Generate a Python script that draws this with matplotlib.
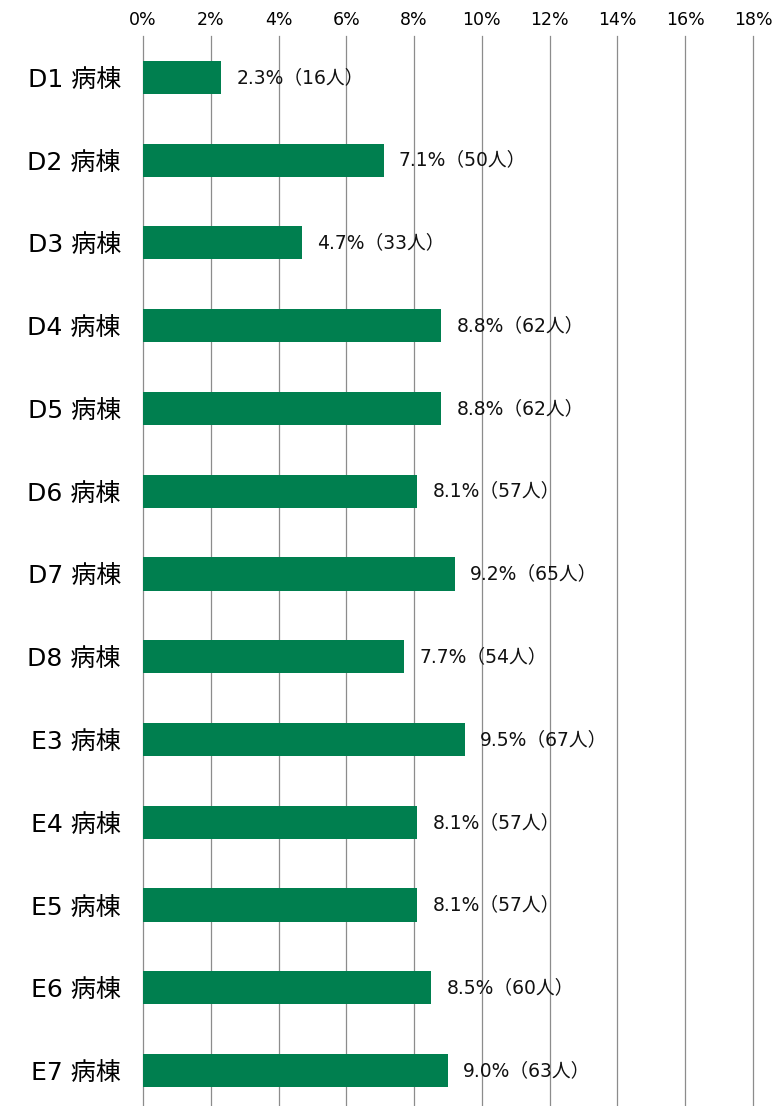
import matplotlib
matplotlib.use('Agg')
import matplotlib.pyplot as plt

plt.rcParams['font.family'] = ['DejaVu Sans', 'Noto Sans CJK JP']

wards = ['D1 病棟', 'D2 病棟', 'D3 病棟', 'D4 病棟', 'D5 病棟', 'D6 病棟', 'D7 病棟',
         'D8 病棟', 'E3 病棟', 'E4 病棟', 'E5 病棟', 'E6 病棟', 'E7 病棟']
rates = [2.3, 7.1, 4.7, 8.8, 8.8, 8.1, 9.2, 7.7, 9.5, 8.1, 8.1, 8.5, 9.0]
people = [16, 50, 33, 62, 62, 57, 65, 54, 67, 57, 57, 60, 63]
xticks = [0, 2, 4, 6, 8, 10, 12, 14, 16, 18]

fig = plt.figure(figsize=(7.76, 11.06), dpi=100)
ax = fig.add_axes([0.1843, -0.0054, 0.786, 0.9729])

y = list(range(len(wards)))
ax.barh(y, rates, height=0.4, color='#007F4F', zorder=3)

for i, (r, n) in enumerate(zip(rates, people)):
    ax.text(r + 0.45, i, f'{r:.1f}%（{n}人）', va='center', ha='left',
            fontsize=13.5, color='#111111', zorder=2)

ax.set_xlim(0, 18)
ax.set_ylim(len(wards) - 0.5, -0.5)
ax.set_xticks(xticks)
ax.set_xticklabels([f'{t}%' for t in xticks], fontsize=12.5)
ax.xaxis.tick_top()
ax.tick_params(axis='x', length=0, pad=5)
ax.set_yticks(y)
ax.set_yticklabels(wards, fontsize=18)
ax.tick_params(axis='y', length=0, pad=16)
ax.grid(axis='x', color='#8c8c8c', linewidth=0.9, zorder=2.5)
for gl in ax.get_xgridlines():
    gl.set_clip_on(False)
for s in ax.spines.values():
    s.set_visible(False)

fig.savefig('out.png', dpi=100)
